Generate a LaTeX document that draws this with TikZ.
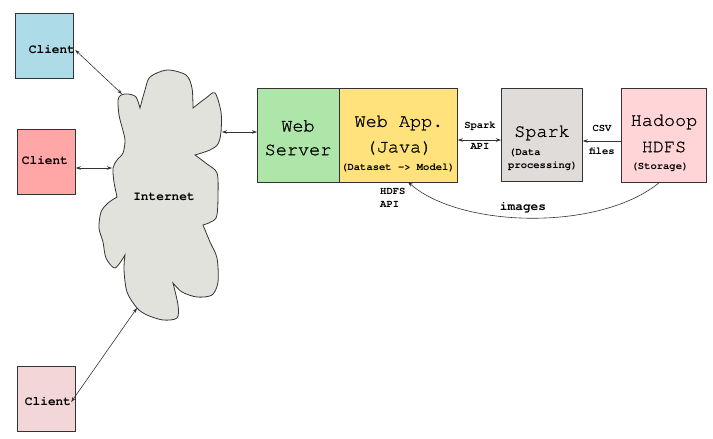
\documentclass[tikz,border=0pt]{standalone}
\usepackage{fontspec}
\setmonofont{TeX Gyre Cursor}
\newfontfamily\bigfont{TeX Gyre Cursor}[FakeBold=0.9]
\usetikzlibrary{arrows.meta}
\definecolor{cblue}{HTML}{ADDBE8}
\definecolor{cred}{HTML}{FFA6A6}
\definecolor{cpink}{HTML}{F3D6D8}
\definecolor{cgreen}{HTML}{AEE6A9}
\definecolor{cyellow}{HTML}{FFE27C}
\definecolor{cgray}{HTML}{E0DCDA}
\definecolor{chadoop}{HTML}{FFD5D8}
\definecolor{ccloud}{HTML}{E2E2DC}
\definecolor{cline}{HTML}{333333}
\tikzset{
  box/.style={draw=cline, line width=0.8pt, inner sep=0pt, anchor=north west},
  conn/.style={draw=black!80, line width=0.6pt, arrows={Stealth[length=5pt,width=3.5pt]-Stealth[length=5pt,width=3.5pt]}},
  oneway/.style={draw=black!80, line width=0.6pt, arrows={-Stealth[length=5pt,width=3.5pt]}},
  big/.style={font=\bigfont\fontsize{18.5}{22}\selectfont, inner sep=0pt},
  small/.style={font=\ttfamily\bfseries\fontsize{10.5}{12}\selectfont, inner sep=0pt},
  mid/.style={font=\ttfamily\bfseries\fontsize{12.8}{15}\selectfont, inner sep=0pt},
}
\begin{document}
\begin{tikzpicture}[x=1pt,y=-1pt]
\useasboundingbox (0,0) rectangle (713,439);
% clients
\node[box, fill=cblue, minimum width=58pt, minimum height=65pt] (c1) at (15,13) {};
\node[box, fill=cred, minimum width=58pt, minimum height=65pt] (c2) at (17,129) {};
\node[box, fill=cpink, minimum width=58pt, minimum height=65pt] (c3) at (17,366) {};
\node[mid] (c1t) at (52,50) {Client};
\node[mid] (c2t) at (45,161) {Client};
\node[mid] (c3t) at (48,402) {Client};
% cloud
\draw[draw=cline, line width=0.8pt, fill=ccloud]
  plot[smooth] coordinates {(140,108) (136,97) (128,94) (121,95) (118,100) (119,115) (122,127) (125,140) (123,153) (117,160) (113,168) (114,182) (117,197)}
  -- plot[smooth] coordinates {(117,197) (108,203) (101,212) (99,228) (103,242) (106,258) (115,268) (125,255)}
  -- plot[smooth] coordinates {(125,255) (124,270) (127,292) (137,308) (147,315) (163,320) (177,318) (178,305) (173,283)}
  -- plot[smooth] coordinates {(173,283) (182,292) (197,297) (212,295) (218,282) (217,258) (210,242) (203,225)}
  -- plot[smooth] coordinates {(203,225) (216,218) (218,195) (217,173) (207,164) (195,155)}
  -- plot[smooth] coordinates {(195,155) (210,150) (218,144) (221,132) (221,112) (215,93) (206,98) (193,108)}
  -- plot[smooth] coordinates {(193,108) (192,88) (186,75) (167,70) (150,77) (145,90) (140,108)}
  -- cycle;
\node[mid] (net) at (164,197) {Internet};
\coordinate (p1) at (122,94);
\coordinate (p2) at (112,168);
\coordinate (p3) at (137,308);
\coordinate (p4) at (222,132);
% right boxes
\node[box, fill=cgreen, minimum width=82pt, minimum height=94pt] (ws) at (257,88) {};
\node[box, fill=cyellow, minimum width=118pt, minimum height=94pt] (wa) at (339,88) {};
\node[box, fill=cgray, minimum width=81pt, minimum height=93pt] (sp) at (501,88) {};
\node[box, fill=chadoop, minimum width=85pt, minimum height=94pt] (hd) at (621,88) {};
% texts
\node[big] at (298,126) {Web};
\node[big] at (298,150) {Server};
\node[big] at (399,123) {Web App.};
\node[big] at (399,148) {(Java)};
\node[small] at (398,168) {(Dataset -> Model)};
\node[big] at (542,133) {Spark};
\node[small, anchor=west] at (509,153) {(Data};
\node[small, anchor=west] at (508,166) {processing)};
\node[big] at (664,122) {Hadoop};
\node[big] at (664,147) {HDFS};
\node[small] at (660,167) {(Storage)};
% connectors
\draw[conn] (c1t.east) -- (p1);
\draw[conn] (c2.east |- p2) -- (p2);
\draw[conn] (c3t.east) -- (p3);
\draw[conn] (p4) -- (ws.west |- p4);
\draw[conn] (wa.east |- 0,140) -- (sp.west |- 0,140);
\node[small] at (480,126) {Spark};
\node[small] at (480,146) {API};
\draw[oneway] (hd.west |- 0,141) -- (sp.east |- 0,141);
\node[small] at (602,128) {CSV};
\node[small] at (602,151) {files};
\coordinate (hb) at (660,182);
\coordinate (wb) at (408,182);
\draw[oneway] (hb) .. controls (600,232) and (460,228) .. (wb);
\node[mid] at (523,208) {images};
\node[small, anchor=west] at (380,191) {HDFS};
\node[small, anchor=west] at (380,204) {API};
\end{tikzpicture}
\end{document}
